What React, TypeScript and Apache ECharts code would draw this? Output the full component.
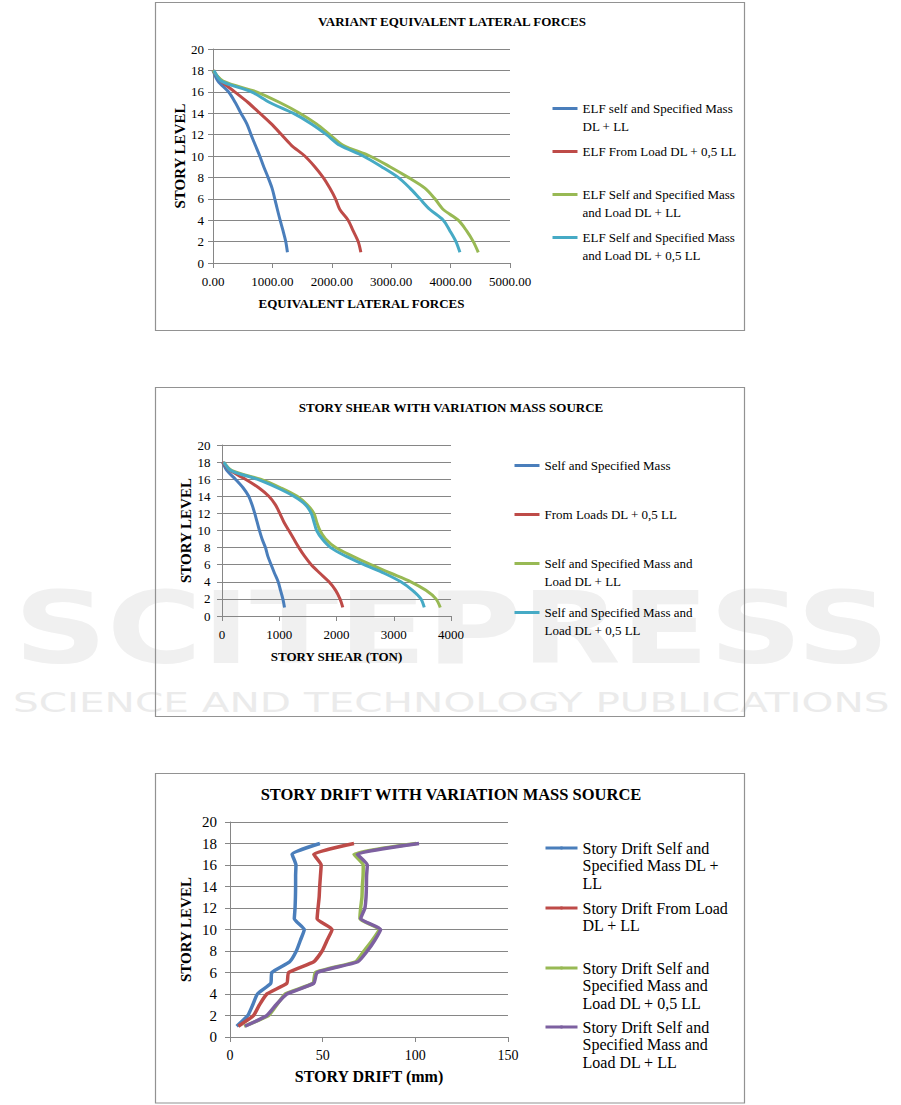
import React, { useEffect, useRef } from "react";
import * as echarts from "echarts";

// ---------- data ----------
const LEVELS = [1, 2, 3, 4, 5, 6, 7, 8, 9, 10, 11, 12, 13, 14, 15, 16, 17, 18];

// Chart 1 – Equivalent lateral forces (values listed from level 1 to level 18)
const ELF_SELF_DL_LL = [1253, 1225, 1180, 1130, 1084, 1040, 994, 927, 854, 787, 713, 640, 570, 470, 375, 260, 84, 0];
const ELF_LOAD_DL_05LL = [2489, 2444, 2360, 2275, 2135, 2062, 1966, 1854, 1713, 1545, 1320, 1152, 983, 787, 590, 365, 140, 0];
const ELF_SELF_LOAD_DL_LL = [4466, 4382, 4270, 4129, 3876, 3736, 3567, 3287, 2978, 2640, 2191, 1966, 1742, 1460, 1124, 730, 170, 0];
const ELF_SELF_LOAD_DL_05LL = [4157, 4090, 3989, 3876, 3652, 3483, 3315, 3118, 2837, 2528, 2135, 1910, 1657, 1348, 955, 646, 140, 17];

// Chart 2 – Story shear (ton)
const SHEAR_SELF = [1092, 1063, 1022, 981, 917, 858, 800, 759, 700, 654, 613, 572, 525, 467, 368, 234, 88, 10];
const SHEAR_LOAD_DL_05LL = [2110, 2061, 1985, 1869, 1711, 1559, 1442, 1343, 1255, 1168, 1080, 1010, 934, 818, 642, 409, 146, 10];
const SHEAR_SELF_LOAD_DL_LL = [3813, 3737, 3562, 3299, 2949, 2599, 2277, 1985, 1810, 1711, 1653, 1606, 1489, 1314, 1022, 672, 175, 29];
const SHEAR_SELF_LOAD_DL_05LL = [3533, 3474, 3328, 3124, 2832, 2482, 2161, 1898, 1752, 1653, 1606, 1559, 1460, 1255, 964, 613, 158, 29];

// Chart 3 – Story drift (mm)
const DRIFT_SELF_DL_LL = [3.6, 9.6, 12.3, 14.8, 22, 22.6, 32.2, 35.8, 38, 40.1, 34.7, 35.1, 35.3, 35.4, 35.4, 35.6, 33.5, 48.5];
const DRIFT_LOAD_DL_LL = [4.5, 12.7, 15.9, 19.9, 30.7, 31.6, 45.2, 49.7, 52.4, 55.1, 47, 47.5, 48.1, 48.4, 48.8, 49.2, 45.2, 66.9];
const DRIFT_SELF_LOAD_DL_05LL = [7.6, 20.8, 25.3, 29.8, 44.8, 46.1, 67.8, 72.3, 76.8, 80.5, 70.1, 70.5, 71.2, 71.4, 71.8, 71.9, 66.9, 100.5];
const DRIFT_SELF_LOAD_DL_LL = [8.1, 19.9, 24.9, 30.7, 45.2, 47, 69, 74.1, 78.1, 81.3, 70.5, 72.8, 73.4, 73.6, 73.7, 74.1, 68.7, 102];

// axis ticks
const Y_TICKS = { min: 0, max: 20, interval: 2 };
const X1_TICKS = { min: 0, max: 5000, interval: 1000 };
const X2_TICKS = { min: 0, max: 4000, interval: 1000 };
const X3_TICKS = { min: 0, max: 150, interval: 50 };

// series names / legend lines
const C1_NAMES = [
  ["ELF self and Specified Mass", "DL + LL"],
  ["ELF From Load DL + 0,5 LL"],
  ["ELF Self and Specified Mass", "and Load DL + LL"],
  ["ELF Self and Specified Mass", "and Load DL + 0,5 LL"],
];
const C2_NAMES = [
  ["Self and Specified Mass"],
  ["From Loads DL + 0,5 LL"],
  ["Self and Specified Mass and", "Load DL + LL"],
  ["Self and Specified Mass and", "Load DL + 0,5 LL"],
];
const C3_NAMES = [
  ["Story Drift Self and", "Specified Mass DL +", "LL"],
  ["Story Drift From Load", "DL + LL"],
  ["Story Drift Self and", "Specified Mass and", "Load DL + 0,5 LL"],
  ["Story Drift Self and", "Specified Mass and", "Load DL + LL"],
];

const BLUE = "#4A7EBB";
const RED = "#BE4B48";
const GREEN = "#98B954";
const CYAN = "#46AAC5";
const PURPLE = "#7D60A0";

const SERIF = "'Liberation Serif', 'Times New Roman', serif";
const GRID_COLOR = "#868686";

function measure(text: string, font: string): number {
  const c = document.createElement("canvas");
  const ctx = c.getContext("2d");
  if (!ctx) return text.length * 50;
  ctx.font = font;
  return ctx.measureText(text).width;
}

function pairs(values: number[]) {
  return values.map((v, i) => [v, LEVELS[i]]);
}

function lineSeries(lines: string[], values: number[], color: string, gi: number, width: number, smooth: number) {
  return {
    type: "line",
    name: lines.join(" "),
    xAxisIndex: gi,
    yAxisIndex: gi,
    data: pairs(values),
    symbol: "none",
    smooth,
    lineStyle: { width, color },
    itemStyle: { color },
    emphasis: { disabled: true },
  };
}

function legendItem(lines: string[], left: number, top: number, iconW: number, fs: number, lh: number) {
  const n = lines.length;
  return {
    data: [lines.join(" ")],
    left,
    top,
    padding: 0,
    orient: "vertical",
    itemWidth: iconW,
    itemHeight: 4,
    selectedMode: false,
    lineStyle: { width: 3 },
    formatter: () => lines.map((l) => `{t|${l}}`).join("\n"),
    textStyle: {
      fontFamily: SERIF,
      fontSize: fs,
      color: "#000",
      padding: [(n - 1) * lh, 0, 0, 0],
      rich: { t: { fontFamily: SERIF, fontSize: fs, lineHeight: lh, color: "#000" } },
    },
  };
}

function xAxisCfg(gi: number, ticks: any, name: string, labelFs: number, nameFs: number, nameGap: number, margin: number, fmt: (v: number) => string) {
  return {
    gridIndex: gi,
    type: "value",
    ...ticks,
    axisLine: { show: true, lineStyle: { color: GRID_COLOR, width: 1 } },
    axisTick: { show: true, length: 5, lineStyle: { color: GRID_COLOR } },
    splitLine: { show: false },
    axisLabel: { margin, fontFamily: SERIF, fontSize: labelFs, color: "#000", formatter: fmt },
    name,
    nameLocation: "middle",
    nameGap,
    nameTextStyle: { fontFamily: SERIF, fontWeight: "bold", fontSize: nameFs, color: "#000" },
  };
}

function yAxisCfg(gi: number, labelFs: number, nameGap: number, margin: number) {
  return {
    gridIndex: gi,
    type: "value",
    ...Y_TICKS,
    axisLine: { show: true, lineStyle: { color: GRID_COLOR, width: 1 } },
    axisTick: { show: true, length: 5, lineStyle: { color: GRID_COLOR } },
    splitLine: { show: true, lineStyle: { color: GRID_COLOR, width: 1 } },
    axisLabel: { margin, fontFamily: SERIF, fontSize: labelFs, color: "#000", formatter: (v: number) => String(v) },
    name: "STORY LEVEL",
    nameLocation: "middle",
    nameGap,
    nameTextStyle: { fontFamily: SERIF, fontWeight: "bold", fontSize: 15, color: "#000" },
  };
}

export default function App() {
  const ref = useRef<HTMLDivElement>(null);

  useEffect(() => {
    if (!ref.current) return;
    const chart = echarts.init(ref.current, undefined, { renderer: "svg" });

    const bigFont = "bold 99px 'DejaVu Sans'";
    const smallFont = "27px 'DejaVu Sans'";
    const bigText = "SCITEPRESS";
    const smallText = "SCIENCE AND TECHNOLOGY PUBLICATIONS";
    const bigScale = 876 / measure(bigText, bigFont);
    const smallScale = 877 / measure(smallText, smallFont);

    const box = (y: number, h: number) => ({
      type: "rect",
      silent: true,
      z: 1,
      shape: { x: 155.5, y, width: 589, height: h },
      style: { fill: "none", stroke: "#929292", lineWidth: 1.2 },
    });

    const option: any = {
      animation: false,
      backgroundColor: "#ffffff",
      title: [
        { text: "VARIANT EQUIVALENT LATERAL FORCES", left: 452, top: 15, textAlign: "center", padding: 0,
          textStyle: { fontFamily: SERIF, fontWeight: "bold", fontSize: 13, color: "#000" } },
        { text: "STORY SHEAR WITH VARIATION MASS SOURCE", left: 451, top: 400.5, textAlign: "center", padding: 0,
          textStyle: { fontFamily: SERIF, fontWeight: "bold", fontSize: 13, color: "#000" } },
        { text: "STORY DRIFT WITH VARIATION MASS SOURCE", left: 451, top: 786, textAlign: "center", padding: 0,
          textStyle: { fontFamily: SERIF, fontWeight: "bold", fontSize: 16.5, color: "#000" } },
      ],
      grid: [
        { left: 213, top: 49, width: 297, height: 214 },
        { left: 222, top: 445, width: 229, height: 171 },
        { left: 230, top: 822, width: 278, height: 215 },
      ],
      xAxis: [
        xAxisCfg(0, X1_TICKS, "EQUIVALENT LATERAL FORCES", 13, 13, 33.5, 12, (v: number) => v.toFixed(2)),
        xAxisCfg(1, X2_TICKS, "STORY SHEAR (TON)", 13, 13, 33.5, 11.5, (v: number) => String(v)),
        xAxisCfg(2, X3_TICKS, "STORY DRIFT (mm)", 14, 16, 31, 11, (v: number) => String(v)),
      ],
      yAxis: [yAxisCfg(0, 13, 21, 9), yAxisCfg(1, 13, 28, 11.5), yAxisCfg(2, 15, 37, 13)],
      legend: [
        legendItem(C1_NAMES[0], 551, 102, 25, 13, 17.5),
        legendItem(C1_NAMES[1], 551, 145, 25, 13, 17.5),
        legendItem(C1_NAMES[2], 551, 188, 25, 13, 17.5),
        legendItem(C1_NAMES[3], 551, 231, 25, 13, 17.5),
        legendItem(C2_NAMES[0], 513, 459, 25, 13, 18),
        legendItem(C2_NAMES[1], 513, 508, 25, 13, 18),
        legendItem(C2_NAMES[2], 513, 557, 25, 13, 18),
        legendItem(C2_NAMES[3], 513, 606, 25, 13, 18),
        legendItem(C3_NAMES[0], 544, 840, 32, 16, 17.8),
        legendItem(C3_NAMES[1], 544, 900, 32, 16, 17.8),
        legendItem(C3_NAMES[2], 544, 960, 32, 16, 17.8),
        legendItem(C3_NAMES[3], 544, 1019, 32, 16, 17.8),
      ],
      series: [
        lineSeries(C1_NAMES[0], ELF_SELF_DL_LL, BLUE, 0, 3, 0.3),
        lineSeries(C1_NAMES[1], ELF_LOAD_DL_05LL, RED, 0, 3, 0.3),
        lineSeries(C1_NAMES[2], ELF_SELF_LOAD_DL_LL, GREEN, 0, 3, 0.3),
        lineSeries(C1_NAMES[3], ELF_SELF_LOAD_DL_05LL, CYAN, 0, 3, 0.3),
        lineSeries(C2_NAMES[0], SHEAR_SELF, BLUE, 1, 3, 0.3),
        lineSeries(C2_NAMES[1], SHEAR_LOAD_DL_05LL, RED, 1, 3, 0.3),
        lineSeries(C2_NAMES[2], SHEAR_SELF_LOAD_DL_LL, GREEN, 1, 3, 0.3),
        lineSeries(C2_NAMES[3], SHEAR_SELF_LOAD_DL_05LL, CYAN, 1, 3, 0.3),
        lineSeries(C3_NAMES[0], DRIFT_SELF_DL_LL, BLUE, 2, 3.5, 0.15),
        lineSeries(C3_NAMES[1], DRIFT_LOAD_DL_LL, RED, 2, 3.5, 0.15),
        lineSeries(C3_NAMES[2], DRIFT_SELF_LOAD_DL_05LL, GREEN, 2, 3.5, 0.15),
        lineSeries(C3_NAMES[3], DRIFT_SELF_LOAD_DL_LL, PURPLE, 2, 3.5, 0.15),
      ],
      graphic: [
        {
          type: "text", silent: true, z: -10, x: 14, y: 629, scaleX: bigScale,
          style: { text: bigText, font: bigFont, fill: "#f0f0f0", align: "left", verticalAlign: "middle" },
        },
        {
          type: "text", silent: true, z: -10, x: 13, y: 703, scaleX: smallScale,
          style: { text: smallText, font: smallFont, fill: "#ebebeb", align: "left", verticalAlign: "middle" },
        },
        box(2.5, 328),
        box(387.5, 329),
        box(773.5, 329.5),
      ],
    };

    chart.setOption(option);
    return () => chart.dispose();
  }, []);

  return <div ref={ref} style={{ position: "absolute", left: 0, top: 0, width: 901, height: 1105 }} />;
}
